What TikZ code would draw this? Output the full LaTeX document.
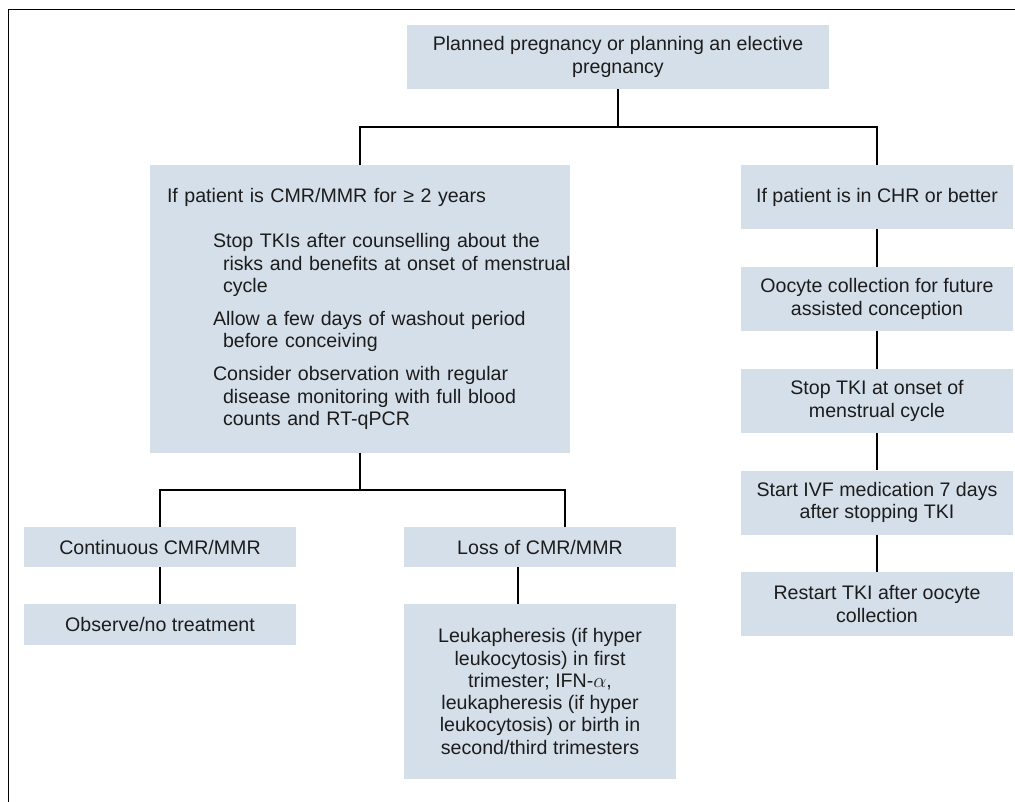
\documentclass[tikz,border=0pt]{standalone}
\usepackage{fontspec}
\setmainfont{Liberation Sans}
\usepackage{tikz}
\definecolor{FlowBlue}{HTML}{D5DFEA}
\definecolor{FlowInk}{HTML}{1C1C1C}

\begin{document}
\begin{tikzpicture}[x=1pt,y=-1pt,
  box/.style={fill=FlowBlue,text=FlowInk,inner sep=0pt,align=center,
    font=\fontsize{19.6}{22.3}\selectfont},
  link/.style={draw=black,line width=2pt}]
  \useasboundingbox (0,0) rectangle (1015,802);
  % frame
  \draw[line width=1.3pt] (1015,9.5) -- (8.5,9.5) -- (8.5,802);

  \node[box,minimum width=422pt,minimum height=64pt] (plan) at (618,57)
    {Planned pregnancy or planning an elective\\pregnancy};

  \node[box,text width=392pt,inner xsep=14pt,align=left,minimum height=287pt] (cmr) at (360,309)
    {\mbox{\hspace*{3pt}If patient is CMR/MMR for ≥ 2 years}\\[22.7pt]
     \mbox{\hspace*{49pt}Stop TKIs after counselling about the}\\
     \mbox{\hspace*{59pt}risks and benefits at onset of menstrual}\\
     \mbox{\hspace*{59pt}cycle}\\[10.7pt]
     \mbox{\hspace*{49pt}Allow a few days of washout period}\\
     \mbox{\hspace*{59pt}before conceiving}\\[10.7pt]
     \mbox{\hspace*{49pt}Consider observation with regular}\\
     \mbox{\hspace*{59pt}disease monitoring with full blood}\\
     \mbox{\hspace*{59pt}counts and RT-qPCR}};

  % right column
  \def\chainbox#1#2#3{
    \node[box,minimum width=272pt,minimum height=64pt] (#1) at (877,#2) {#3};
  }
  \chainbox{chr}{197}{If patient is in CHR or better}
  \chainbox{oocyte}{299}{Oocyte collection for future\\assisted conception}
  \chainbox{stoptki}{401}{Stop TKI at onset of\\menstrual cycle}
  \chainbox{ivf}{502.5}{Start IVF medication 7 days\\after stopping TKI}
  \chainbox{restart}{604}{Restart TKI after oocyte\\collection}

  % left branches
  \node[box,minimum width=272pt,minimum height=40pt] (cont) at (160,547) {Continuous CMR/MMR};
  \node[box,minimum width=272pt,minimum height=40pt] (loss) at (540,547) {Loss of CMR/MMR};
  \node[box,minimum width=272pt,minimum height=41pt] (observe) at (160,624.5) {Observe/no treatment};
  \node[box,minimum width=272pt,minimum height=175pt] (leuka) at (540,691.5)
    {Leukapheresis (if hyper\\leukocytosis) in first\\trimester; IFN-$\alpha$,\\leukapheresis (if hyper\\leukocytosis) or birth in\\second/third trimesters};

  % connectors
  \draw[link] (cmr.north) -- ++(0,-38) coordinate (split) -| (chr.north);
  \draw[link] (plan.south) -- (plan.south |- split);
  \draw[link] (cmr.south) -- ++(0,37) coordinate (fork);
  \coordinate (lossin) at ([xshift=25pt]loss.north);
  \draw[link] (cont.north) |- (fork) -| (lossin);
  \draw[link] (cont) -- (observe);
  \draw[link] ([xshift=-22pt]loss.south) -- ([xshift=-22pt]loss.south |- leuka.north);
  \foreach \a/\b in {chr/oocyte,oocyte/stoptki,stoptki/ivf,ivf/restart}
    \draw[link] (\a) -- (\b);
\end{tikzpicture}
\end{document}
